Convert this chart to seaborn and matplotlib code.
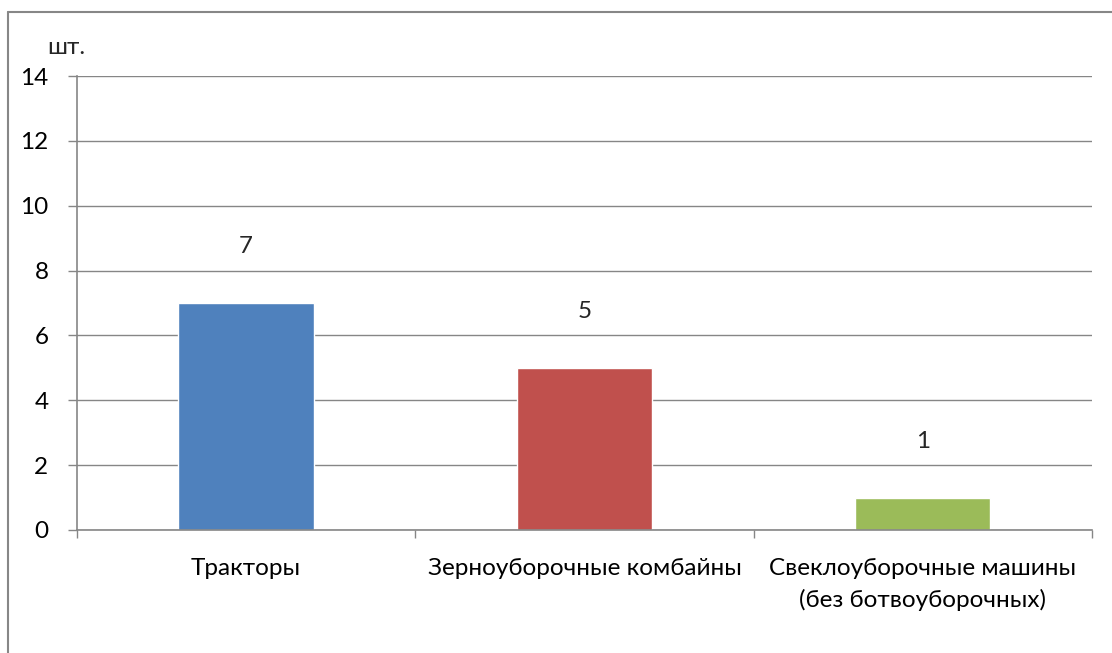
import matplotlib
matplotlib.use("Agg")
import matplotlib.pyplot as plt
from matplotlib.lines import Line2D
import seaborn as sns
import pandas as pd

categories = ["Тракторы", "Зерноуборочные комбайны", "Свеклоуборочные машины\n(без ботвоуборочных)"]
values = [7, 5, 1]
colors = ["#4F81BD", "#C0504D", "#9BBB59"]
y_ticks = [0, 2, 4, 6, 8, 10, 12, 14]
unit_label = "шт."

sns.set_theme(style="white")
plt.rcParams["font.family"] = ["Lato", "DejaVu Sans"]
fs = 17.5

df = pd.DataFrame({"category": categories, "value": values})

fig = plt.figure(figsize=(11.12, 6.53), dpi=100)
ax = fig.add_axes([0.0692, 0.1884, 0.9128, 0.6952])

sns.barplot(data=df, x="category", y="value", hue="category",
            palette=colors, width=0.4, saturation=1, legend=False, ax=ax)

grid_col = "#868686"
ax.set_xlim(-0.5, len(categories) - 0.5)
ax.set_ylim(0, 14)
ax.set_yticks(y_ticks)
ax.yaxis.grid(True, color=grid_col, linewidth=1.0)
ax.set_axisbelow(True)
for side in ("top", "right"):
    ax.spines[side].set_visible(False)
for side in ("left", "bottom"):
    ax.spines[side].set_color(grid_col)
    ax.spines[side].set_linewidth(1.2)

ax.tick_params(axis="y", which="major", length=6.5, width=1.0, color=grid_col,
               labelsize=fs, labelcolor="black", pad=14, left=True)
ax.set_xticks(range(len(categories)))
ax.set_xticklabels(categories, fontsize=fs, color="black", linespacing=1.55)
ax.tick_params(axis="x", which="major", length=0, pad=20)
ax.set_xticks([i - 0.5 for i in range(len(categories) + 1)], minor=True)
ax.tick_params(axis="x", which="minor", length=6, width=1.0, color=grid_col,
               bottom=True)
ax.set_xlabel("")
ax.set_ylabel("")

for i, v in enumerate(values):
    ax.annotate(str(v), (i, v), xytext=(0, 40.5), textcoords="offset points",
                ha="center", va="center", fontsize=fs)

fig.text(47 / 1112, 1 - 48 / 653, unit_label, fontsize=fs, ha="left", va="center")

border_col = "#878787"
fig.add_artist(Line2D([8 / 1112, 8 / 1112], [0, 1 - 12 / 653], transform=fig.transFigure,
                      color=border_col, linewidth=1.5))
fig.add_artist(Line2D([8 / 1112, 1], [1 - 12 / 653, 1 - 12 / 653], transform=fig.transFigure,
                      color=border_col, linewidth=1.5))

fig.savefig("out.png", dpi=100, facecolor="white")
